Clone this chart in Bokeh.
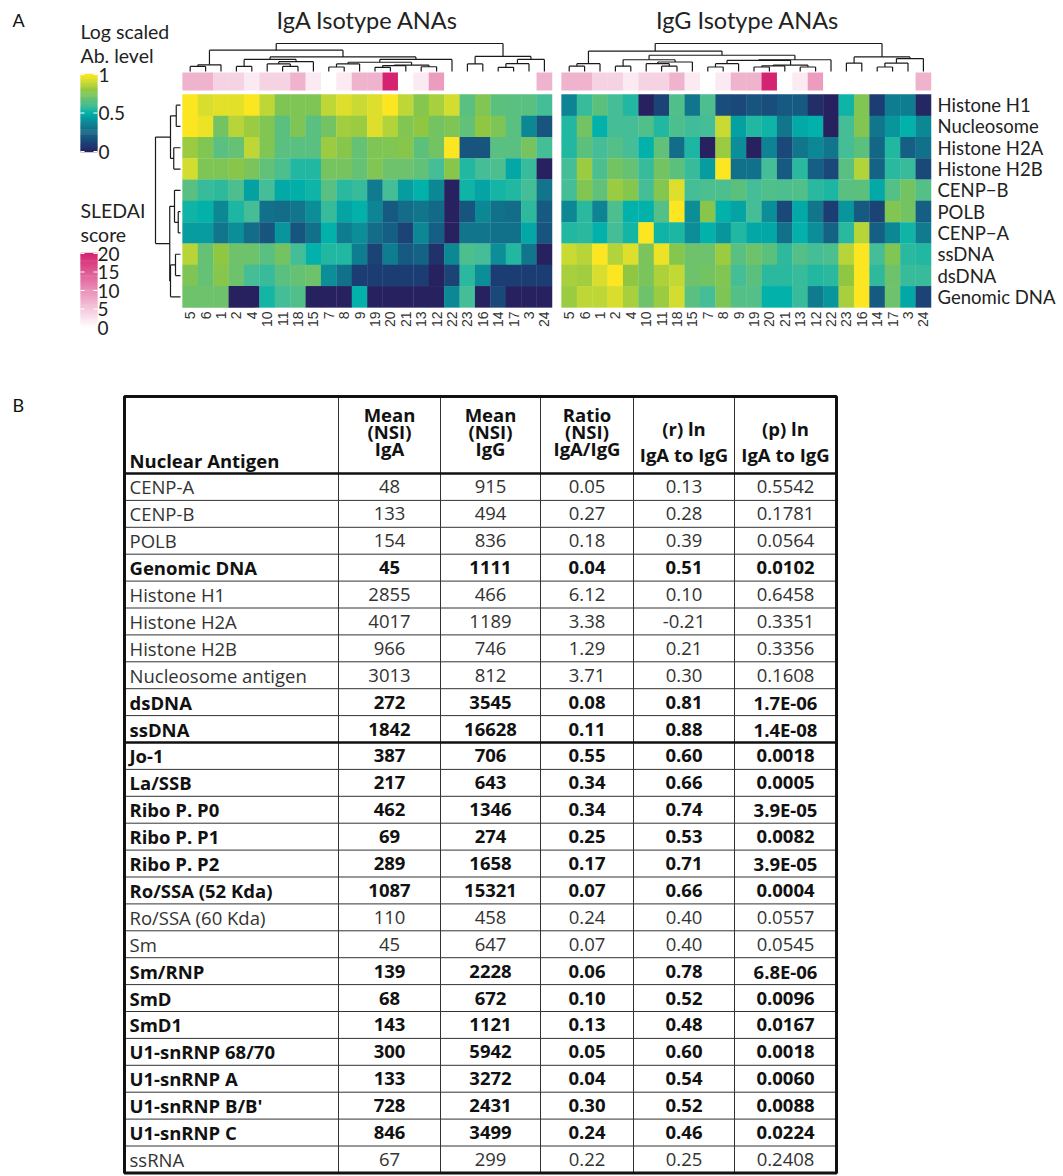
import numpy as np
from bokeh.plotting import figure
from bokeh.models import Range1d, LinearColorMapper, ColumnDataSource
from bokeh.transform import transform
from bokeh.core.properties import value, field
from bokeh.embed import file_html
from bokeh.resources import INLINE

# ------------------------------------------------------------------ data
antigens = ["Histone H1", "Nucleosome", "Histone H2A", "Histone H2B", "CENP\u2212B",
            "POLB", "CENP\u2212A", "ssDNA", "dsDNA", "Genomic DNA"]
patients = ["5", "6", "1", "2", "4", "10", "11", "18", "15", "7", "8", "9",
            "19", "20", "21", "13", "12", "22", "23", "16", "14", "17", "3", "24"]
sledai = [7, 7, 4, 4, 2, 4, 4, 7, 2, 0, 2, 7, 7, 20, 0, 2, 9, 0, 0, 0, 0, 0, 0, 7]

iga_h1 = [1.0, 0.93, 0.95, 0.95, 1.0, 0.88, 0.75, 0.75, 0.75, 0.88, 0.94, 0.9, 0.94, 1.0, 0.88, 0.77, 0.84, 0.92, 0.65, 0.76, 0.66, 0.65, 0.65, 0.6]
iga_nuc = [1.0, 0.97, 0.72, 0.87, 0.82, 0.76, 0.65, 0.75, 0.65, 0.72, 0.83, 0.82, 0.94, 0.86, 0.76, 0.8, 0.72, 0.75, 0.67, 0.8, 0.75, 0.65, 0.38, 0.18]
iga_h2a = [0.82, 0.76, 0.65, 0.68, 0.88, 0.76, 0.65, 0.65, 0.65, 0.82, 0.78, 0.68, 0.75, 0.76, 0.78, 0.66, 0.72, 1.0, 0.18, 0.18, 0.65, 0.65, 0.73, 0.6]
iga_h2b = [0.92, 0.75, 0.75, 0.78, 0.74, 0.67, 0.62, 0.55, 0.55, 0.73, 0.73, 0.68, 0.76, 0.7, 0.7, 0.67, 0.6, 0.78, 0.55, 0.6, 0.62, 0.47, 0.58, 0.0]
iga_cenpb = [0.65, 0.58, 0.57, 0.62, 0.45, 0.6, 0.48, 0.49, 0.52, 0.65, 0.56, 0.58, 0.33, 0.6, 0.44, 0.5, 0.38, 0.0, 0.52, 0.46, 0.53, 0.55, 0.6, 0.32]
iga_polb = [0.52, 0.5, 0.38, 0.54, 0.6, 0.3, 0.28, 0.32, 0.4, 0.58, 0.46, 0.5, 0.37, 0.2, 0.28, 0.32, 0.27, 0.0, 0.18, 0.38, 0.3, 0.28, 0.57, 0.2]
iga_cenpa = [0.44, 0.44, 0.32, 0.4, 0.28, 0.18, 0.42, 0.18, 0.3, 0.5, 0.34, 0.4, 0.28, 0.22, 0.12, 0.38, 0.22, 0.0, 0.32, 0.32, 0.3, 0.3, 0.47, 0.18]
iga_ssdna = [0.87, 0.68, 0.8, 0.7, 0.7, 0.65, 0.72, 0.6, 0.5, 0.55, 0.55, 0.34, 0.12, 0.34, 0.2, 0.24, 0.06, 0.38, 0.62, 0.6, 0.4, 0.55, 0.32, 0.0]
iga_dsdna = [0.75, 0.68, 0.78, 0.7, 0.6, 0.58, 0.65, 0.68, 0.7, 0.4, 0.3, 0.1, 0.1, 0.1, 0.1, 0.1, 0.0, 0.12, 0.56, 0.4, 0.1, 0.1, 0.1, 0.1]
iga_gdna = [0.7, 0.7, 0.7, 0.0, 0.0, 0.53, 0.6, 0.63, 0.0, 0.0, 0.0, 0.5, 0.0, 0.0, 0.0, 0.0, 0.0, 0.38, 0.6, 0.0, 0.14, 0.0, 0.0, 0.0]

igg_h1 = [0.36, 0.58, 0.66, 0.6, 0.55, 0.0, 0.12, 0.63, 0.32, 0.62, 0.16, 0.14, 0.18, 0.16, 0.2, 0.2, 0.04, 0.0, 0.52, 0.76, 0.1, 0.34, 0.34, 0.02]
igg_nuc = [0.55, 0.72, 0.5, 0.6, 0.6, 0.63, 0.55, 0.62, 0.59, 0.6, 0.9, 0.45, 0.55, 0.52, 0.32, 0.48, 0.5, 0.0, 0.6, 0.76, 0.32, 0.42, 0.5, 0.38]
igg_h2a = [0.55, 0.66, 0.6, 0.64, 0.6, 0.5, 0.67, 0.28, 0.54, 0.0, 0.82, 0.4, 0.0, 0.36, 0.14, 0.32, 0.38, 0.32, 0.6, 0.66, 0.25, 0.55, 0.22, 0.3]
igg_h2b = [0.6, 0.82, 0.62, 0.72, 0.68, 0.58, 0.72, 0.66, 0.58, 0.44, 1.0, 0.3, 0.3, 0.6, 0.2, 0.56, 0.22, 0.14, 0.65, 0.86, 0.24, 0.56, 0.58, 0.14]
igg_cenpb = [0.6, 0.76, 0.67, 0.82, 0.77, 0.6, 0.77, 0.94, 0.6, 0.62, 0.62, 0.66, 0.6, 0.63, 0.62, 0.63, 0.56, 0.54, 0.65, 0.66, 0.48, 0.64, 0.72, 0.64]
igg_polb = [0.38, 0.56, 0.36, 0.62, 0.5, 0.5, 0.64, 1.0, 0.4, 0.78, 0.5, 0.46, 0.6, 0.4, 0.14, 0.48, 0.32, 0.1, 0.42, 0.2, 0.12, 0.76, 0.72, 0.22]
igg_cenpa = [0.55, 0.56, 0.5, 0.6, 0.53, 1.0, 0.52, 0.54, 0.4, 0.5, 0.42, 0.55, 0.47, 0.47, 0.3, 0.5, 0.4, 0.24, 0.56, 0.87, 0.22, 0.38, 0.52, 0.33]
igg_ssdna = [0.9, 0.87, 1.0, 0.86, 0.94, 0.74, 0.97, 0.77, 0.7, 0.7, 0.82, 0.65, 0.7, 0.66, 0.57, 0.64, 0.6, 0.62, 0.87, 1.0, 0.6, 0.76, 0.56, 0.55]
igg_dsdna = [0.84, 0.83, 0.93, 1.0, 0.8, 0.74, 0.85, 0.89, 0.7, 0.72, 0.76, 0.6, 0.66, 0.56, 0.56, 0.58, 0.55, 0.56, 0.8, 1.0, 0.57, 0.7, 0.58, 0.58]
igg_gdna = [0.82, 0.88, 0.88, 0.93, 0.84, 0.7, 0.82, 0.92, 0.65, 0.6, 0.75, 0.64, 0.64, 0.5, 0.5, 0.58, 0.33, 0.42, 0.84, 1.0, 0.2, 0.7, 0.47, 0.12]

# dendrograms: (left, right, height); leaves are 1-based positions
iga_col_tree = ((((1, 2, 0.18), 3, 0.24),
                 (((4, 5, 0.18), ((6, (7, 8, 0.18), 0.27), 9, 0.35), 0.43),
                  (((((10, 11, 0.16), 12, 0.27), (((13, 14, 0.15), 15, 0.21), (16, 17, 0.17), 0.23), 0.33), 18, 0.43)),
                  0.52), 0.76),
                ((19, 20, 0.27), (((21, 22, 0.15), 23, 0.28), 24, 0.43), 0.54), 1.0)
igg_col_tree = ((((1, 2, 0.19), 3, 0.28),
                 (((4, 5, 0.19), ((6, (7, 8, 0.19), 0.28), 9, 0.34), 0.42),
                  (((((10, 11, 0.16), 12, 0.28), (((13, 14, 0.16), 15, 0.2), (16, 17, 0.16), 0.23), 0.4), 18, 0.42)),
                  0.58), 0.73),
                ((19, 20, 0.3), (((21, 22, 0.16), 23, 0.3), 24, 0.46), 0.52), 1.0)
row_tree = (((1, 2, 0.17), (3, 4, 0.27), 0.40),
            ((5, (6, 7, 0.09), 0.24), ((8, 9, 0.2), 10, 0.4), 0.43), 1.0)

# table B
tbl_names = ["CENP-A", "CENP-B", "POLB", "Genomic DNA", "Histone H1", "Histone H2A", "Histone H2B",
             "Nucleosome antigen", "dsDNA", "ssDNA", "Jo-1", "La/SSB", "Ribo P. P0", "Ribo P. P1",
             "Ribo P. P2", "Ro/SSA (52 Kda)", "Ro/SSA (60 Kda)", "Sm", "Sm/RNP", "SmD", "SmD1",
             "U1-snRNP 68/70", "U1-snRNP A", "U1-snRNP B/B'", "U1-snRNP C", "ssRNA"]
tbl_iga = [48, 133, 154, 45, 2855, 4017, 966, 3013, 272, 1842, 387, 217, 462, 69, 289, 1087, 110, 45,
           139, 68, 143, 300, 133, 728, 846, 67]
tbl_igg = [915, 494, 836, 1111, 466, 1189, 746, 812, 3545, 16628, 706, 643, 1346, 274, 1658, 15321,
           458, 647, 2228, 672, 1121, 5942, 3272, 2431, 3499, 299]
tbl_ratio = [0.05, 0.27, 0.18, 0.04, 6.12, 3.38, 1.29, 3.71, 0.08, 0.11, 0.55, 0.34, 0.34, 0.25, 0.17,
             0.07, 0.24, 0.07, 0.06, 0.10, 0.13, 0.05, 0.04, 0.30, 0.24, 0.22]
tbl_r = [0.13, 0.28, 0.39, 0.51, 0.10, -0.21, 0.21, 0.30, 0.81, 0.88, 0.60, 0.66, 0.74, 0.53, 0.71,
         0.66, 0.40, 0.40, 0.78, 0.52, 0.48, 0.60, 0.54, 0.52, 0.46, 0.25]
tbl_p = [0.5542, 0.1781, 0.0564, 0.0102, 0.6458, 0.3351, 0.3356, 0.1608, 1.7e-06, 1.4e-08, 0.0018,
         0.0005, 3.9e-05, 0.0082, 3.9e-05, 0.0004, 0.0557, 0.0545, 6.8e-06, 0.0096, 0.0167, 0.0018,
         0.0060, 0.0088, 0.0224, 0.2408]
tbl_bold = [0, 0, 0, 1, 0, 0, 0, 0, 1, 1, 1, 1, 1, 1, 1, 1, 0, 0, 1, 1, 1, 1, 1, 1, 1, 0]

# ------------------------------------------------------------------ figure
W, H = 1062, 1175
p = figure(width=W, height=H, x_range=Range1d(0, W), y_range=Range1d(H, 0),
           output_backend="svg", toolbar_location=None, min_border=0)
p.axis.visible = False
p.grid.visible = False
p.outline_line_color = None
p.background_fill_color = "white"

FONT = value("Lato")
TFONT = value("Open Sans")
TSIZE = "18.5px"

# colour map
stops = [(0.0, "#27225f"), (0.1, "#1c3e73"), (0.2, "#165a82"), (0.3, "#12718a"), (0.4, "#0b8e98"),
         (0.5, "#00b1aa"), (0.6, "#45bd96"), (0.7, "#6cc26c"), (0.8, "#8fc743"), (0.9, "#c8da34"),
         (1.0, "#fbe621")]


def hex2rgb(h):
    return np.array([int(h[i:i + 2], 16) for i in (1, 3, 5)], float)


def make_palette(st, n=256):
    xs = np.array([s[0] for s in st])
    cols = np.array([hex2rgb(s[1]) for s in st])
    out = []
    for t in np.linspace(0, 1, n):
        rgb = [np.interp(t, xs, cols[:, k]) for k in range(3)]
        out.append("#%02x%02x%02x" % tuple(int(round(c)) for c in rgb))
    return out


ab_mapper = LinearColorMapper(palette=make_palette(stops), low=0, high=1)
sl_mapper = LinearColorMapper(palette=make_palette([(0, "#ffffff"), (1, "#d42471")]), low=0, high=20)

# geometry
CW, RH = 15.4, 21.3
HM_Y0 = 94
IGA_X0, IGG_X0 = 182, 561
SL_Y0, SL_Y1 = 72, 90
LEAF_Y, DEND_H = 71, 28
ROW_LEAF_X, ROW_DEND_W = 180, 25

iga_rows = [iga_h1, iga_nuc, iga_h2a, iga_h2b, iga_cenpb, iga_polb, iga_cenpa, iga_ssdna, iga_dsdna, iga_gdna]
igg_rows = [igg_h1, igg_nuc, igg_h2a, igg_h2b, igg_cenpb, igg_polb, igg_cenpa, igg_ssdna, igg_dsdna, igg_gdna]


def draw_heatmap(rows, x0):
    xs, ys, vs = [], [], []
    for r, vals in enumerate(rows):
        for c, v in enumerate(vals):
            xs.append(x0 + (c + 0.5) * CW)
            ys.append(HM_Y0 + (r + 0.5) * RH)
            vs.append(v)
    src = ColumnDataSource(dict(x=xs, y=ys, v=vs))
    p.rect(x="x", y="y", width=CW + 0.3, height=RH + 0.3, source=src,
           fill_color=transform("v", ab_mapper), line_color=None)
    sx = [x0 + (c + 0.5) * CW for c in range(len(sledai))]
    s2 = ColumnDataSource(dict(x=sx, y=[(SL_Y0 + SL_Y1) / 2] * len(sx), s=sledai))
    p.rect(x="x", y="y", width=CW + 0.3, height=SL_Y1 - SL_Y0, source=s2,
           fill_color=transform("s", sl_mapper), line_color=None)
    lx = [x0 + (c + 0.5) * CW for c in range(len(patients))]
    p.text(x=lx, y=[311] * len(lx), text=patients, angle=np.pi / 2, text_align="right",
           text_baseline="middle", text_font=value("Liberation Sans"), text_font_size="14px",
           text_color="#333333")


def dendro(node, pos, segs):
    if isinstance(node, int):
        return pos(node), 0.0
    l, r, h = node
    lp, lh = dendro(l, pos, segs)
    rp, rh = dendro(r, pos, segs)
    segs.append((lp, lh, lp, h))
    segs.append((rp, rh, rp, h))
    segs.append((lp, h, rp, h))
    return (lp + rp) / 2, h


def draw_col_dendro(tree, x0):
    segs = []
    dendro(tree, lambda i: x0 + (i - 0.5) * CW, segs)
    p.segment(x0=[s[0] for s in segs], y0=[LEAF_Y - s[1] * DEND_H for s in segs],
              x1=[s[2] for s in segs], y1=[LEAF_Y - s[3] * DEND_H for s in segs],
              line_color="#1a1a1a", line_width=1.2)


draw_heatmap(iga_rows, IGA_X0)
draw_heatmap(igg_rows, IGG_X0)
draw_col_dendro(iga_col_tree, IGA_X0)
draw_col_dendro(igg_col_tree, IGG_X0)

segs = []
dendro(row_tree, lambda i: HM_Y0 + (i - 0.5) * RH, segs)
p.segment(x0=[ROW_LEAF_X - s[1] * ROW_DEND_W for s in segs], y0=[s[0] for s in segs],
          x1=[ROW_LEAF_X - s[3] * ROW_DEND_W for s in segs], y1=[s[2] for s in segs],
          line_color="#1a1a1a", line_width=1.2)

# row labels
p.text(x=[937] * len(antigens), y=[HM_Y0 + (r + 0.5) * RH for r in range(len(antigens))], text=antigens,
       text_font=FONT, text_font_size="18.5px", text_baseline="middle", text_color="#222222")

# titles
p.text(x=[367, 747], y=[19, 19], text=["IgA Isotype ANAs", "IgG Isotype ANAs"], text_align="center",
       text_baseline="middle", text_font=FONT, text_font_size="23.5px", text_color="#222222")
p.text(x=[12, 12], y=[19, 404], text=["A", "B"], text_baseline="middle", text_font=FONT,
       text_font_size="18px", text_color="#111111")

# legends
p.text(x=[80, 80, 80, 80], y=[31, 55, 210, 234], text=["Log scaled", "Ab. level", "SLEDAI", "score"],
       text_baseline="middle", text_font=FONT, text_font_size="19.5px", text_color="#222222")

LB_X0, LB_X1, LB_TOP, LB_BOT = 80, 97, 74, 151
gv = np.linspace(0, 1, 80)
gstep = (LB_BOT - LB_TOP) / (len(gv) - 1)
gsrc = ColumnDataSource(dict(top=[LB_BOT - v * (LB_BOT - LB_TOP) - gstep / 2 - 0.3 for v in gv],
                             bottom=[LB_BOT - v * (LB_BOT - LB_TOP) + gstep / 2 + 0.3 for v in gv], v=gv))
p.quad(left=LB_X0, right=LB_X1, top="top", bottom="bottom", source=gsrc,
       fill_color=transform("v", ab_mapper), line_color=None)
ab_ticks = [0, 0.5, 1]
ty = [LB_BOT - t * (LB_BOT - LB_TOP) for t in ab_ticks]
p.segment(x0=[LB_X0] * 3, x1=[LB_X0 + 4] * 3, y0=ty, y1=ty, line_color="white", line_width=1.2)
p.segment(x0=[LB_X1 - 4] * 3, x1=[LB_X1] * 3, y0=ty, y1=ty, line_color="white", line_width=1.2)
p.text(x=[98] * 3, y=ty, text=["0", "0.5", "1"], text_baseline="middle", text_font=FONT,
       text_font_size="19px", text_color="#222222")

SB_TOP, SB_BOT = 253, 327
sv = np.linspace(0, 20, 80)
sstep = (SB_BOT - SB_TOP) / (len(sv) - 1)
ssrc = ColumnDataSource(dict(top=[SB_BOT - v / 20 * (SB_BOT - SB_TOP) - sstep / 2 - 0.3 for v in sv],
                             bottom=[SB_BOT - v / 20 * (SB_BOT - SB_TOP) + sstep / 2 + 0.3 for v in sv], v=sv))
p.quad(left=LB_X0, right=LB_X1, top="top", bottom="bottom", source=ssrc,
       fill_color=transform("v", sl_mapper), line_color=None)
sl_ticks = [0, 5, 10, 15, 20]
sty = [SB_BOT - t / 20 * (SB_BOT - SB_TOP) for t in sl_ticks]
p.segment(x0=[LB_X0] * 5, x1=[LB_X0 + 4] * 5, y0=sty, y1=sty, line_color="white", line_width=1.2)
p.segment(x0=[LB_X1 - 4] * 5, x1=[LB_X1] * 5, y0=sty, y1=sty, line_color="white", line_width=1.2)
p.text(x=[97] * 5, y=sty, text=[str(t) for t in sl_ticks], text_baseline="middle", text_font=FONT,
       text_font_size="19px", text_color="#222222")

# ------------------------------------------------------------------ table
col_edges = [124, 338, 440, 540, 633, 734, 836]
T_TOP, T_HEAD, ROW_H = 396, 473, 26.9
nrows = len(tbl_names)
T_BOT = T_HEAD + nrows * ROW_H

hy = [T_HEAD + k * ROW_H for k in range(1, nrows)]
p.segment(x0=[col_edges[0]] * len(hy), x1=[col_edges[-1]] * len(hy), y0=hy, y1=hy,
          line_color="#333333", line_width=1)
p.segment(x0=col_edges[1:-1], x1=col_edges[1:-1], y0=[T_TOP] * 5, y1=[T_BOT] * 5,
          line_color="#333333", line_width=1)
p.segment(x0=[col_edges[0]] * 2, x1=[col_edges[-1]] * 2, y0=[T_HEAD, T_HEAD + 10 * ROW_H],
          y1=[T_HEAD, T_HEAD + 10 * ROW_H], line_color="#111111", line_width=2.5)
p.quad(left=[col_edges[0]], right=[col_edges[-1]], top=[T_TOP], bottom=[T_BOT], fill_color=None,
       line_color="#111111", line_width=3)

p.text(x=[col_edges[0] + 5], y=[460], text=["Nuclear Antigen"], text_baseline="middle",
       text_font=TFONT, text_font_style="bold", text_font_size=TSIZE, text_color="#111111")
hdr = [["Mean", "(NSI)", "IgA"], ["Mean", "(NSI)", "IgG"], ["Ratio", "(NSI)", "IgA/IgG"],
       ["(r) ln", "IgA to IgG"], ["(p) ln", "IgA to IgG"]]
hx, hyy, ht = [], [], []
for j, lines in enumerate(hdr):
    cx = (col_edges[j + 1] + col_edges[j + 2]) / 2
    ys = [414, 431, 448] if len(lines) == 3 else [428, 454]
    for yy, t in zip(ys, lines):
        hx.append(cx)
        hyy.append(yy)
        ht.append(t)
p.text(x=hx, y=hyy, text=ht, text_align="center", text_baseline="middle", text_font=TFONT,
       text_font_style="bold", text_font_size=TSIZE, text_color="#111111")

ry = [T_HEAD + (k + 0.5) * ROW_H for k in range(nrows)]
styles = ["bold" if b else "normal" for b in tbl_bold]
colors = ["#111111" if b else "#333333" for b in tbl_bold]
bsrc = ColumnDataSource(dict(x=[col_edges[0] + 5] * nrows, y=ry, t=tbl_names, style=styles, color=colors))
p.text(x="x", y="y", text="t", source=bsrc, text_baseline="middle", text_font=TFONT,
       text_font_size=TSIZE, text_font_style=field("style"), text_color=field("color"))


def fmt_p(v):
    return ("%.1E" % v) if v < 0.0001 else ("%.4f" % v)


cols_txt = [[str(v) for v in tbl_iga], [str(v) for v in tbl_igg], ["%.2f" % v for v in tbl_ratio],
            ["%.2f" % v for v in tbl_r], [fmt_p(v) for v in tbl_p]]
vx, vy, vt, vs, vc = [], [], [], [], []
for j, txts in enumerate(cols_txt):
    cx = (col_edges[j + 1] + col_edges[j + 2]) / 2
    for k, t in enumerate(txts):
        vx.append(cx)
        vy.append(ry[k])
        vt.append(t)
        vs.append(styles[k])
        vc.append(colors[k])
vsrc = ColumnDataSource(dict(x=vx, y=vy, t=vt, style=vs, color=vc))
p.text(x="x", y="y", text="t", source=vsrc, text_align="center", text_baseline="middle", text_font=TFONT,
       text_font_size=TSIZE, text_font_style=field("style"), text_color=field("color"))

open("out.html", "w").write(file_html(p, INLINE))
